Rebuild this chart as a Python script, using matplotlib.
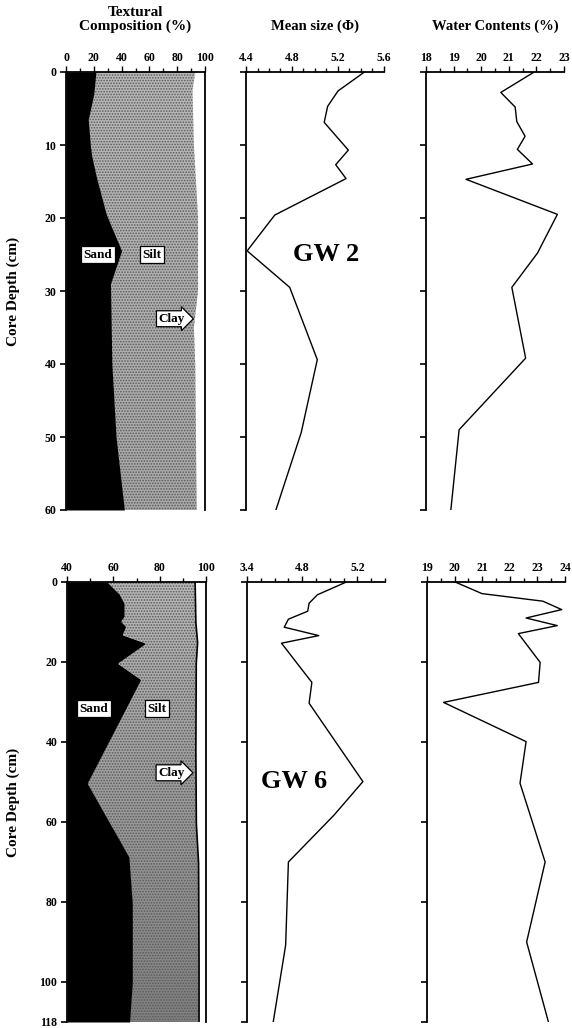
# Import necessary libraries
import numpy as np
import matplotlib
matplotlib.use("Agg")
import matplotlib.pyplot as plt

# DATA: GW 2 core (depth in cm)
gw2_sand_depth = [0, 3, 6.5, 10, 11.5, 14.5, 19.5, 24.5, 29, 40, 50, 60]
gw2_sand = [21.5, 20, 16, 17.5, 18.5, 22, 29, 40, 32, 33, 36, 42]
gw2_silt_depth = [0, 2.5, 10, 15, 20, 30, 35, 40, 60]
gw2_silt = [93, 91, 92, 93.5, 95, 95, 92, 93, 94]

gw2_mean_depth = [0, 2.6, 4.7, 6.9, 10.7, 12.7, 14.6, 19.6, 24.5, 29.5, 39.4, 49.4, 60]
gw2_mean = [5.43, 5.2, 5.11, 5.08, 5.29, 5.18, 5.27, 4.65, 4.41, 4.78, 5.02, 4.88, 4.66]

gw2_water_depth = [0, 2.8, 4.8, 6.8, 8.8, 10.6, 12.6, 14.7, 19.5, 24.8, 29.5, 39.2, 49, 60]
gw2_water = [21.92, 20.71, 21.23, 21.29, 21.59, 21.31, 21.86, 19.45, 22.76, 22.04, 21.11, 21.61, 19.2, 18.9]

# DATA: GW 6 core (depth in cm)
gw6_sand_depth = [0, 3, 5.3, 8.6, 9.8, 11.1, 13.2, 15.3, 20.3, 24.4, 50.3, 68.7, 80.4, 100, 110]
gw6_sand = [57.3, 62.5, 64.6, 64.6, 63.1, 65.3, 63.8, 74, 61.7, 71.8, 48.7, 66.7, 68.2, 68.2, 67]
gw6_silt_depth = [0, 10, 15, 20, 40, 60, 70, 90, 110]
gw6_silt = [95.3, 95.6, 96.4, 95.8, 95.6, 95.8, 96.8, 97, 97]

gw6_mean_depth = [0, 3.2, 5.3, 7.3, 9.3, 11.3, 13.4, 15.3, 25.1, 30.3, 49.9, 58.3, 70, 90.8, 110]
gw6_mean = [5.12, 4.91, 4.85, 4.84, 4.70, 4.67, 4.92, 4.65, 4.87, 4.85, 5.24, 5.03, 4.70, 4.68, 4.59]

gw6_water_depth = [0, 2.9, 4.8, 6.9, 9, 10.9, 12.9, 20.1, 25.1, 30.1, 39.9, 50.3, 70, 90, 110]
gw6_water = [20.02, 20.99, 23.2, 23.88, 22.59, 23.72, 22.31, 23.1, 23.04, 19.6, 22.59, 22.37, 23.28, 22.61, 23.4]

# Axis ticks and labels
gw2_depth_ticks = [0, 10, 20, 30, 40, 50, 60]
gw2_depth_labels = ["0", "10", "20", "30", "40", "50", "60"]
gw6_depth_ticks = [0, 20, 40, 60, 80, 100, 110]
gw6_depth_labels = ["0", "20", "40", "60", "80", "100", "118"]
gw6_mean_labels = ["3.4", "4.8", "5.2"]

SERIF = ["Liberation Serif", "DejaVu Serif"]
plt.rcParams["font.family"] = SERIF
plt.rcParams["font.weight"] = "bold"
plt.rcParams["hatch.linewidth"] = 0.8

FW, FH = 572, 1028


def px_axes(fig, x0, x1, y0, y1):
    # Convert pixel box into figure coordinates
    return fig.add_axes([x0 / FW, 1 - y1 / FH, (x1 - x0) / FW, (y1 - y0) / FH])


def style_top(ax, major, minor, right=False):
    # Top axis with outward ticks, left axis with outward ticks
    ax.xaxis.tick_top()
    ax.set_xticks(major)
    ax.set_xticks(minor, minor=True)
    ax.tick_params(axis="x", which="major", direction="out", length=4, width=1, pad=2, labelsize=8.5)
    ax.tick_params(axis="x", which="minor", direction="out", length=3, width=1)
    ax.tick_params(axis="y", direction="out", length=4, width=1.2, pad=3, labelsize=8.5)
    ax.spines["bottom"].set_visible(False)
    ax.spines["right"].set_visible(right)
    for s in ["top", "left", "right"]:
        ax.spines[s].set_linewidth(1.3)
    for lab in ax.get_xticklabels() + ax.get_yticklabels():
        lab.set_fontweight("bold")


def texture_panel(ax, sand_d, sand, silt_d, silt, depth_max, x0, shade, edge_line):
    depth = np.linspace(0, depth_max, 400)
    s = np.interp(depth, sand_d, sand)
    t = np.interp(depth, silt_d, silt)
    # silt band: grey shading (top to bottom) clipped to the band, with stipple
    band = ax.fill_betweenx(depth, s, t, facecolor="none", edgecolor="#5a5a5a", hatch="......", lw=0, zorder=2)
    grad = np.linspace(shade[0], shade[1], 256).reshape(-1, 1)
    img = ax.imshow(grad, cmap="gray", vmin=0, vmax=1, aspect="auto",
                    extent=[x0, 100, depth_max, 0], zorder=1)
    img.set_clip_path(band.get_paths()[0], transform=ax.transData)
    ax.fill_betweenx(depth, x0, s, color="black", lw=0, zorder=3)
    if edge_line:
        ax.plot(t, depth, color="black", lw=1.2, zorder=3)
    ax.set_xlim(x0, 100)
    ax.set_ylim(depth_max, 0)


def label_box(ax, x, y, text, arrow=False):
    style = "rarrow,pad=0.15" if arrow else "square,pad=0.2"
    ax.text(x, y, text, fontsize=9.5, fontweight="bold", ha="center", va="center", zorder=5,
            bbox=dict(boxstyle=style, fc="white", ec="black", lw=0.9))


fig = plt.figure(figsize=(FW / 100, FH / 100), dpi=100)

# ---- GW 2 row ----
ax = px_axes(fig, 66, 205, 72, 510)
texture_panel(ax, gw2_sand_depth, gw2_sand, gw2_silt_depth, gw2_silt, 60, 0, (0.72, 0.66), False)
style_top(ax, np.arange(0, 101, 20), np.arange(0, 101, 10), right=True)
ax.set_yticks(gw2_depth_ticks)
ax.set_yticklabels(gw2_depth_labels, fontweight="bold")
ax.set_ylabel("Core Depth (cm)", fontsize=11, fontweight="bold")
ax.yaxis.set_label_coords(-0.33, 0.5)
ax.set_title("Textural\nComposition (%)", fontsize=11, fontweight="bold", pad=16, linespacing=1.05)
label_box(ax, 23, 25, "Sand")
label_box(ax, 62, 25, "Silt")
label_box(ax, 76, 33.8, "Clay", arrow=True)

ax = px_axes(fig, 246, 384, 72, 510)
ax.plot(gw2_mean, gw2_mean_depth, color="black", lw=1)
ax.set_xlim(4.4, 5.6)
ax.set_ylim(60, 0)
style_top(ax, [4.4, 4.8, 5.2, 5.6], np.arange(4.4, 5.61, 0.1))
ax.set_yticks(gw2_depth_ticks)
ax.set_yticklabels([])
ax.set_title("Mean size (\u03a6)", fontsize=10.5, fontweight="bold", pad=16)
ax.text(5.10, 25, "GW 2", fontsize=19, fontweight="bold", ha="center", va="center")

ax = px_axes(fig, 426, 564, 72, 510)
ax.plot(gw2_water, gw2_water_depth, color="black", lw=1)
ax.set_xlim(18, 23)
ax.set_ylim(60, 0)
style_top(ax, np.arange(18, 24, 1), np.arange(18, 23.01, 0.5))
ax.set_yticks(gw2_depth_ticks)
ax.set_yticklabels([])
ax.set_title("Water Contents (%)", fontsize=10.5, fontweight="bold", pad=16)

# ---- GW 6 row ----
ax = px_axes(fig, 67, 206, 582, 1022)
texture_panel(ax, gw6_sand_depth, gw6_sand, gw6_silt_depth, gw6_silt, 110, 40, (0.72, 0.5), True)
style_top(ax, np.arange(40, 101, 20), np.arange(40, 101, 10), right=True)
ax.set_yticks(gw6_depth_ticks)
ax.set_yticklabels(gw6_depth_labels, fontweight="bold")
ax.set_ylabel("Core Depth (cm)", fontsize=11, fontweight="bold")
ax.yaxis.set_label_coords(-0.34, 0.5)
label_box(ax, 51.7, 31.7, "Sand")
label_box(ax, 78.8, 31.7, "Silt")
label_box(ax, 85, 47.7, "Clay", arrow=True)

ax = px_axes(fig, 247, 385, 582, 1022)
ax.plot(gw6_mean, gw6_mean_depth, color="black", lw=1)
ax.set_xlim(4.4, 5.4)
ax.set_ylim(110, 0)
style_top(ax, [4.4, 4.8, 5.2], np.arange(4.4, 5.41, 0.1))
ax.set_xticklabels(gw6_mean_labels, fontweight="bold")
ax.set_yticks(gw6_depth_ticks)
ax.set_yticklabels([])
ax.text(4.74, 50, "GW 6", fontsize=19, fontweight="bold", ha="center", va="center")

ax = px_axes(fig, 427, 565, 582, 1022)
ax.plot(gw6_water, gw6_water_depth, color="black", lw=1)
ax.set_xlim(19, 24)
ax.set_ylim(110, 0)
style_top(ax, np.arange(19, 25, 1), np.arange(19, 24.01, 0.5))
ax.set_yticks(gw6_depth_ticks)
ax.set_yticklabels([])

fig.savefig("out.png", dpi=100)
